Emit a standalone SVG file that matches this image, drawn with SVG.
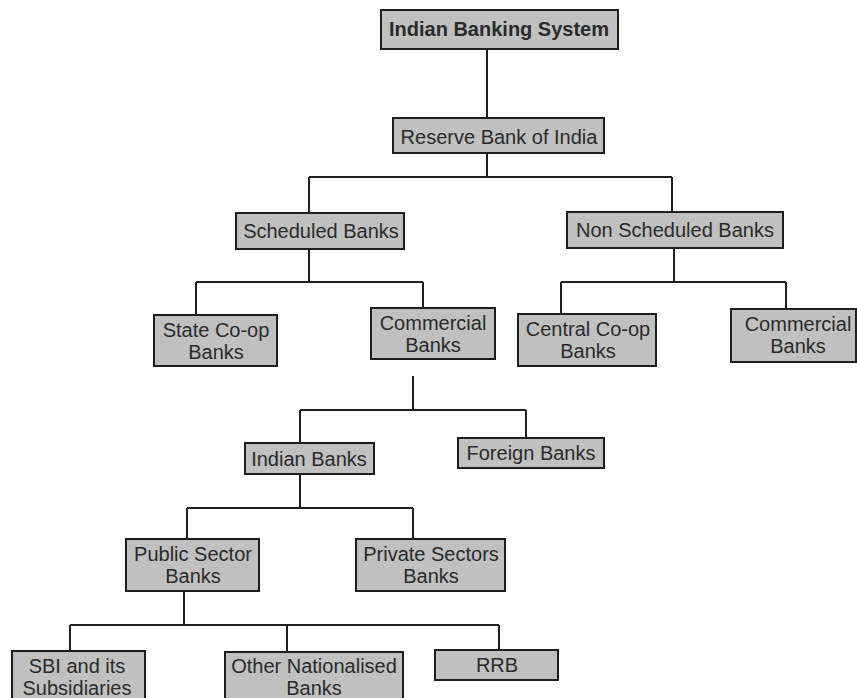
<svg xmlns="http://www.w3.org/2000/svg" width="857" height="698" viewBox="0 0 857 698">
<style>
.box{fill:#c0c0c0;stroke:#1e1e1e;stroke-width:2}
.t{font-family:"Liberation Sans",Arial,sans-serif;font-size:20px;fill:#2b2b2b;text-anchor:middle}
.b{font-weight:bold}
.c{fill:none;stroke:#1e1e1e;stroke-width:2}
</style>
<rect width="857" height="698" fill="#ffffff"/>
<g id="connectors" class="c">
<path d="M487 49V118M487 153V177M309 177H672M309 177V213M672 177V212"/>
<path d="M309 249V282M196 282H423M196 282V315M423 282V308"/>
<path d="M674 248V282M561 282H786M561 282V314M786 282V309"/>
<path d="M413 376V410M300 410H526M300 410V443M526 410V438"/>
<path d="M300 474V508M187 508H413M187 508V539M413 508V539"/>
<path d="M184 591V625M70 625H499M70 625V651M287 625V652M499 625V650"/>
</g>
<g id="n-ibs"><rect class="box" x="381" y="10" width="237" height="39"/><text class="t b" x="499" y="36">Indian Banking System</text></g>
<g id="n-rbi"><rect class="box" x="393" y="118" width="211" height="35"/><text class="t" x="499" y="143.5">Reserve Bank of India</text></g>
<g id="n-sched"><rect class="box" x="236" y="213" width="168" height="36"/><text class="t" x="321" y="238">Scheduled Banks</text></g>
<g id="n-nonsched"><rect class="box" x="567" y="212" width="216" height="36"/><text class="t" x="675" y="237">Non Scheduled Banks</text></g>
<g id="n-state"><rect class="box" x="154" y="315" width="123" height="51"/><text class="t" x="216" y="337">State Co-op</text><text class="t" x="216" y="359">Banks</text></g>
<g id="n-comm1"><rect class="box" x="371" y="308" width="124" height="51"/><text class="t" x="433" y="330">Commercial</text><text class="t" x="433" y="352">Banks</text></g>
<g id="n-central"><rect class="box" x="518" y="314" width="138" height="52"/><text class="t" x="588" y="336">Central Co-op</text><text class="t" x="588" y="358">Banks</text></g>
<g id="n-comm2"><rect class="box" x="731" y="309" width="125" height="53"/><text class="t" x="798" y="331">Commercial</text><text class="t" x="798" y="353">Banks</text></g>
<g id="n-indian"><rect class="box" x="245" y="443" width="129" height="31"/><text class="t" x="309" y="465.5">Indian Banks</text></g>
<g id="n-foreign"><rect class="box" x="458" y="438" width="146" height="30"/><text class="t" x="531" y="460">Foreign Banks</text></g>
<g id="n-public"><rect class="box" x="126" y="539" width="133" height="52"/><text class="t" x="193" y="561">Public Sector</text><text class="t" x="193" y="583">Banks</text></g>
<g id="n-private"><rect class="box" x="356" y="539" width="149" height="52"/><text class="t" x="431" y="561">Private Sectors</text><text class="t" x="431" y="583">Banks</text></g>
<g id="n-sbi"><rect class="box" x="12" y="651" width="133" height="60"/><text class="t" x="77" y="673">SBI and its</text><text class="t" x="77" y="695">Subsidiaries</text></g>
<g id="n-other"><rect class="box" x="225" y="652" width="178" height="60"/><text class="t" x="314" y="673">Other Nationalised</text><text class="t" x="314" y="695">Banks</text></g>
<g id="n-rrb"><rect class="box" x="435" y="650" width="123" height="30"/><text class="t" x="497" y="672">RRB</text></g>
</svg>
